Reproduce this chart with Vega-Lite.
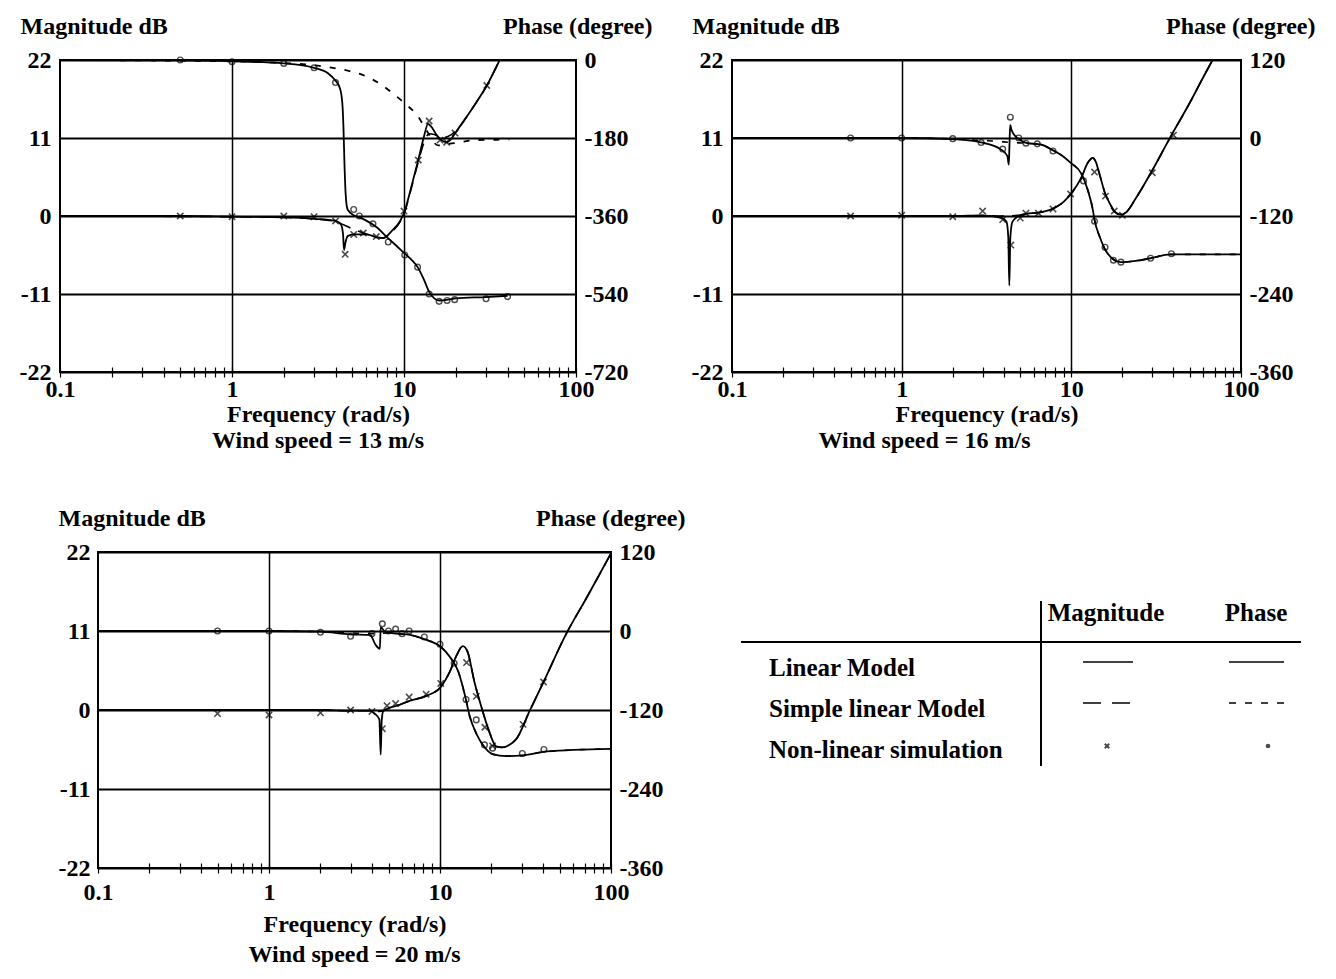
{
"$schema": "https://vega.github.io/schema/vega-lite/v6.json",
"padding": {"left": 18, "top": 13, "right": 5, "bottom": 5},
"config": {
  "font": "Liberation Serif",
  "view": {"stroke": "black", "strokeWidth": 2},
  "axis": {"labelFont": "Liberation Serif", "labelFontSize": 24, "labelFontWeight": "bold", "labelColor": "black", "titleFont": "Liberation Serif", "titleFontSize": 24, "titleFontWeight": "bold", "titleColor": "black", "tickColor": "black", "domainColor": "black", "gridColor": "black"},
  "title": {"font": "Liberation Serif", "fontSize": 24, "fontWeight": "bold", "color": "black"},
  "text": {"font": "Liberation Serif", "fontSize": 25, "fontWeight": "bold", "color": "black"}
},
"datasets": {
  "p13": [
    {"f":0.1,"v":0,"s":"ml"},{"f":0.5,"v":0,"s":"ml"},{"f":1,"v":-0.1,"s":"ml"},{"f":2,"v":-0.2,"s":"ml"},{"f":3,"v":-0.4,"s":"ml"},{"f":4,"v":-0.7,"s":"ml"},{"f":4.3,"v":-1.2,"s":"ml"},{"f":4.42,"v":-2.5,"s":"ml"},{"f":4.48,"v":-4.8,"s":"ml"},{"f":4.58,"v":-3.6,"s":"ml"},{"f":4.72,"v":-2.8,"s":"ml"},{"f":5.2,"v":-2.6,"s":"ml"},{"f":6.07,"v":-2.6,"s":"ml"},{"f":6.93,"v":-3.0,"s":"ml"},{"f":7.6,"v":-3.1,"s":"ml"},{"f":8.5,"v":-2.1,"s":"ml"},{"f":9.5,"v":-0.7,"s":"ml"},{"f":10.1,"v":0.7,"s":"ml"},{"f":11,"v":4,"s":"ml"},{"f":12.1,"v":7.9,"s":"ml"},{"f":13,"v":11,"s":"ml"},{"f":13.8,"v":13,"s":"ml"},{"f":14.4,"v":12.6,"s":"ml"},{"f":15.5,"v":11.4,"s":"ml"},{"f":16.5,"v":10.7,"s":"ml"},{"f":17.7,"v":10.4,"s":"ml"},{"f":19,"v":11,"s":"ml"},{"f":20,"v":11.8,"s":"ml"},{"f":25,"v":15.2,"s":"ml"},{"f":30.3,"v":18.4,"s":"ml"},{"f":36,"v":22,"s":"ml"},
    {"f":0.1,"v":0,"s":"ms"},{"f":1,"v":-0.1,"s":"ms"},{"f":2,"v":-0.2,"s":"ms"},{"f":3,"v":-0.4,"s":"ms"},{"f":4,"v":-0.8,"s":"ms"},{"f":5,"v":-1.8,"s":"ms"},{"f":6,"v":-2.5,"s":"ms"},{"f":7,"v":-3.0,"s":"ms"},{"f":7.6,"v":-3.1,"s":"ms"},{"f":8.5,"v":-2.2,"s":"ms"},{"f":9.5,"v":-0.8,"s":"ms"},{"f":10.1,"v":0.6,"s":"ms"},{"f":11,"v":3.8,"s":"ms"},{"f":12.1,"v":7.6,"s":"ms"},{"f":13,"v":10.2,"s":"ms"},{"f":14,"v":11.6,"s":"ms"},{"f":15,"v":11.5,"s":"ms"},{"f":16.5,"v":11,"s":"ms"},{"f":18,"v":11.2,"s":"ms"},{"f":20,"v":12,"s":"ms"},{"f":25,"v":15.2,"s":"ms"},{"f":30.3,"v":18.4,"s":"ms"},{"f":36,"v":22,"s":"ms"},
    {"f":0.5,"v":0,"s":"mn"},{"f":1,"v":-0.1,"s":"mn"},{"f":2,"v":0,"s":"mn"},{"f":3,"v":-0.1,"s":"mn"},{"f":4,"v":-0.7,"s":"mn"},{"f":4.55,"v":-5.4,"s":"mn"},{"f":5.1,"v":-2.6,"s":"mn"},{"f":5.8,"v":-2.4,"s":"mn"},{"f":6.9,"v":-2.9,"s":"mn"},{"f":10,"v":0.7,"s":"mn"},{"f":12.1,"v":7.9,"s":"mn"},{"f":14,"v":13.4,"s":"mn"},{"f":16.2,"v":10.7,"s":"mn"},{"f":17.7,"v":10.4,"s":"mn"},{"f":19.8,"v":11.7,"s":"mn"},{"f":30.3,"v":18.4,"s":"mn"},
    {"f":0.1,"v":0,"s":"pl"},{"f":0.5,"v":-1,"s":"pl"},{"f":1,"v":-3,"s":"pl"},{"f":2,"v":-8,"s":"pl"},{"f":3,"v":-18,"s":"pl"},{"f":3.6,"v":-30,"s":"pl"},{"f":4,"v":-48,"s":"pl"},{"f":4.24,"v":-65,"s":"pl"},{"f":4.38,"v":-100,"s":"pl"},{"f":4.45,"v":-160,"s":"pl"},{"f":4.5,"v":-230,"s":"pl"},{"f":4.58,"v":-310,"s":"pl"},{"f":4.7,"v":-345,"s":"pl"},{"f":5.1,"v":-358,"s":"pl"},{"f":5.5,"v":-363,"s":"pl"},{"f":6,"v":-370,"s":"pl"},{"f":7,"v":-387,"s":"pl"},{"f":8,"v":-410,"s":"pl"},{"f":9,"v":-428,"s":"pl"},{"f":10,"v":-445,"s":"pl"},{"f":11,"v":-460,"s":"pl"},{"f":12,"v":-478,"s":"pl"},{"f":13,"v":-505,"s":"pl"},{"f":14,"v":-535,"s":"pl"},{"f":15,"v":-550,"s":"pl"},{"f":16,"v":-555,"s":"pl"},{"f":18,"v":-553,"s":"pl"},{"f":20,"v":-550,"s":"pl"},{"f":30,"v":-547,"s":"pl"},{"f":40,"v":-544,"s":"pl"},
    {"f":0.1,"v":0,"s":"ps"},{"f":1,"v":-3,"s":"ps"},{"f":2,"v":-7,"s":"ps"},{"f":3,"v":-12,"s":"ps"},{"f":3.55,"v":-16,"s":"ps"},{"f":4.64,"v":-24,"s":"ps"},{"f":5.8,"v":-35,"s":"ps"},{"f":7.25,"v":-55,"s":"ps"},{"f":8.66,"v":-78,"s":"ps"},{"f":10.1,"v":-100,"s":"ps"},{"f":12.1,"v":-131,"s":"ps"},{"f":13.5,"v":-162,"s":"ps"},{"f":15.8,"v":-197,"s":"ps"},{"f":18.5,"v":-193,"s":"ps"},{"f":21.2,"v":-190,"s":"ps"},{"f":25.2,"v":-185,"s":"ps"},{"f":34.6,"v":-184,"s":"ps"},{"f":41,"v":-183,"s":"ps"},
    {"f":0.5,"v":0,"s":"pn"},{"f":1,"v":-4,"s":"pn"},{"f":2,"v":-8,"s":"pn"},{"f":3,"v":-18,"s":"pn"},{"f":4,"v":-52,"s":"pn"},{"f":5.1,"v":-345,"s":"pn"},{"f":5.5,"v":-360,"s":"pn"},{"f":6.6,"v":-378,"s":"pn"},{"f":8.1,"v":-420,"s":"pn"},{"f":10.1,"v":-450,"s":"pn"},{"f":12,"v":-478,"s":"pn"},{"f":14,"v":-540,"s":"pn"},{"f":16,"v":-557,"s":"pn"},{"f":17.8,"v":-555,"s":"pn"},{"f":19.7,"v":-553,"s":"pn"},{"f":30,"v":-551,"s":"pn"},{"f":40,"v":-546,"s":"pn"}
  ],
  "p16": [
    {"f":0.1,"v":0,"s":"ml"},{"f":1,"v":0,"s":"ml"},{"f":2,"v":0,"s":"ml"},{"f":3,"v":0.1,"s":"ml"},{"f":3.9,"v":-0.3,"s":"ml"},{"f":4.15,"v":-0.8,"s":"ml"},{"f":4.25,"v":-3,"s":"ml"},{"f":4.31,"v":-9.8,"s":"ml"},{"f":4.37,"v":-3,"s":"ml"},{"f":4.5,"v":-0.8,"s":"ml"},{"f":4.9,"v":0,"s":"ml"},{"f":5.4,"v":0.3,"s":"ml"},{"f":6.5,"v":0.5,"s":"ml"},{"f":7.9,"v":1.1,"s":"ml"},{"f":9,"v":2,"s":"ml"},{"f":10,"v":3.2,"s":"ml"},{"f":11.4,"v":5.3,"s":"ml"},{"f":12.5,"v":7.5,"s":"ml"},{"f":13.4,"v":8.2,"s":"ml"},{"f":13.9,"v":7.7,"s":"ml"},{"f":14.7,"v":5.8,"s":"ml"},{"f":15.8,"v":3.2,"s":"ml"},{"f":17,"v":1.6,"s":"ml"},{"f":18,"v":0.6,"s":"ml"},{"f":19.6,"v":0.2,"s":"ml"},{"f":21,"v":0.5,"s":"ml"},{"f":24,"v":2.5,"s":"ml"},{"f":29.3,"v":6,"s":"ml"},{"f":38.5,"v":11.2,"s":"ml"},{"f":50,"v":16,"s":"ml"},{"f":60,"v":19.6,"s":"ml"},{"f":68,"v":22,"s":"ml"},
    {"f":0.1,"v":0,"s":"ms"},{"f":1,"v":0,"s":"ms"},{"f":2,"v":0,"s":"ms"},{"f":3,"v":0.05,"s":"ms"},{"f":3.9,"v":0,"s":"ms"},{"f":4.9,"v":0.1,"s":"ms"},{"f":5.4,"v":0.3,"s":"ms"},{"f":6.5,"v":0.5,"s":"ms"},{"f":7.9,"v":1.1,"s":"ms"},{"f":9,"v":2,"s":"ms"},{"f":10,"v":3.2,"s":"ms"},{"f":11.4,"v":5.3,"s":"ms"},{"f":12.5,"v":7.5,"s":"ms"},{"f":13.4,"v":8.2,"s":"ms"},{"f":13.9,"v":7.7,"s":"ms"},{"f":14.7,"v":5.8,"s":"ms"},{"f":15.8,"v":3.2,"s":"ms"},{"f":17,"v":1.6,"s":"ms"},{"f":18,"v":0.6,"s":"ms"},{"f":19.6,"v":0.2,"s":"ms"},{"f":21,"v":0.5,"s":"ms"},{"f":24,"v":2.5,"s":"ms"},{"f":29.3,"v":6,"s":"ms"},{"f":38.5,"v":11.2,"s":"ms"},{"f":50,"v":16,"s":"ms"},{"f":60,"v":19.6,"s":"ms"},{"f":68,"v":22,"s":"ms"},
    {"f":0.5,"v":0,"s":"mn"},{"f":1,"v":0.1,"s":"mn"},{"f":2,"v":-0.1,"s":"mn"},{"f":3,"v":0.7,"s":"mn"},{"f":3.94,"v":-0.5,"s":"mn"},{"f":4.4,"v":-4.1,"s":"mn"},{"f":5.0,"v":-0.3,"s":"mn"},{"f":5.4,"v":0.4,"s":"mn"},{"f":6.4,"v":0.4,"s":"mn"},{"f":7.8,"v":1.0,"s":"mn"},{"f":9.9,"v":3.1,"s":"mn"},{"f":13.7,"v":6.2,"s":"mn"},{"f":15.9,"v":2.8,"s":"mn"},{"f":17.9,"v":0.7,"s":"mn"},{"f":20,"v":0.1,"s":"mn"},{"f":30,"v":6.1,"s":"mn"},{"f":40,"v":11.4,"s":"mn"},
    {"f":0.1,"v":0,"s":"pl"},{"f":1,"v":0,"s":"pl"},{"f":2,"v":-1.6,"s":"pl"},{"f":2.94,"v":-6.7,"s":"pl"},{"f":3.86,"v":-18,"s":"pl"},{"f":4.2,"v":-28,"s":"pl"},{"f":4.28,"v":-41,"s":"pl"},{"f":4.32,"v":-10,"s":"pl"},{"f":4.36,"v":20,"s":"pl"},{"f":4.45,"v":12,"s":"pl"},{"f":4.6,"v":5,"s":"pl"},{"f":4.9,"v":-1.6,"s":"pl"},{"f":5.5,"v":-8,"s":"pl"},{"f":6.6,"v":-10,"s":"pl"},{"f":7.8,"v":-19,"s":"pl"},{"f":8.7,"v":-26,"s":"pl"},{"f":10,"v":-39,"s":"pl"},{"f":11.4,"v":-54,"s":"pl"},{"f":12.5,"v":-80,"s":"pl"},{"f":13.4,"v":-111,"s":"pl"},{"f":13.7,"v":-126,"s":"pl"},{"f":14.7,"v":-152,"s":"pl"},{"f":15.7,"v":-170,"s":"pl"},{"f":18,"v":-188,"s":"pl"},{"f":19.6,"v":-191,"s":"pl"},{"f":24,"v":-189,"s":"pl"},{"f":29.3,"v":-185,"s":"pl"},{"f":38.5,"v":-179,"s":"pl"},{"f":100,"v":-179,"s":"pl"},
    {"f":0.1,"v":0,"s":"ps"},{"f":1,"v":0,"s":"ps"},{"f":2,"v":-1.5,"s":"ps"},{"f":3,"v":-4,"s":"ps"},{"f":3.6,"v":-5,"s":"ps"},{"f":4.4,"v":-7,"s":"ps"},{"f":5.5,"v":-8,"s":"ps"},{"f":6.6,"v":-10,"s":"ps"},{"f":7.8,"v":-19,"s":"ps"},{"f":8.7,"v":-26,"s":"ps"},{"f":10,"v":-39,"s":"ps"},{"f":11.4,"v":-54,"s":"ps"},{"f":12.5,"v":-80,"s":"ps"},{"f":13.4,"v":-111,"s":"ps"},{"f":13.7,"v":-126,"s":"ps"},{"f":14.7,"v":-152,"s":"ps"},{"f":15.7,"v":-170,"s":"ps"},{"f":18,"v":-188,"s":"ps"},{"f":19.6,"v":-191,"s":"ps"},{"f":24,"v":-189,"s":"ps"},{"f":29.3,"v":-185,"s":"ps"},{"f":38.5,"v":-179,"s":"ps"},{"f":100,"v":-179,"s":"ps"},
    {"f":0.5,"v":0,"s":"pn"},{"f":1,"v":0,"s":"pn"},{"f":2,"v":-1,"s":"pn"},{"f":2.94,"v":-7,"s":"pn"},{"f":3.94,"v":-17,"s":"pn"},{"f":4.37,"v":32,"s":"pn"},{"f":4.9,"v":0,"s":"pn"},{"f":5.4,"v":-8,"s":"pn"},{"f":6.3,"v":-9,"s":"pn"},{"f":7.8,"v":-20,"s":"pn"},{"f":11.8,"v":-66,"s":"pn"},{"f":13.7,"v":-128,"s":"pn"},{"f":15.8,"v":-168,"s":"pn"},{"f":17.7,"v":-188,"s":"pn"},{"f":19.6,"v":-191,"s":"pn"},{"f":29.3,"v":-185,"s":"pn"},{"f":38.9,"v":-178,"s":"pn"}
  ],
  "p20": [
    {"f":0.1,"v":0,"s":"ml"},{"f":1,"v":0,"s":"ml"},{"f":2,"v":0,"s":"ml"},{"f":3,"v":-0.1,"s":"ml"},{"f":3.9,"v":-0.1,"s":"ml"},{"f":4.17,"v":-0.55,"s":"ml"},{"f":4.42,"v":-1.3,"s":"ml"},{"f":4.5,"v":-6.2,"s":"ml"},{"f":4.56,"v":-1.5,"s":"ml"},{"f":4.65,"v":-0.2,"s":"ml"},{"f":4.9,"v":0.15,"s":"ml"},{"f":5.6,"v":0.6,"s":"ml"},{"f":6.7,"v":1.3,"s":"ml"},{"f":8.4,"v":2.0,"s":"ml"},{"f":10.1,"v":3.2,"s":"ml"},{"f":11.4,"v":5.3,"s":"ml"},{"f":12.5,"v":7.6,"s":"ml"},{"f":13.6,"v":8.9,"s":"ml"},{"f":14.5,"v":8.1,"s":"ml"},{"f":15.9,"v":3.9,"s":"ml"},{"f":17.6,"v":0.15,"s":"ml"},{"f":19.2,"v":-2.7,"s":"ml"},{"f":21.4,"v":-5.1,"s":"ml"},{"f":23,"v":-5.2,"s":"ml"},{"f":27.8,"v":-4.1,"s":"ml"},{"f":33.5,"v":-0.1,"s":"ml"},{"f":40.3,"v":3.9,"s":"ml"},{"f":54.7,"v":10.6,"s":"ml"},{"f":71.9,"v":15.6,"s":"ml"},{"f":100,"v":21.8,"s":"ml"},
    {"f":0.1,"v":0,"s":"ms"},{"f":1,"v":0,"s":"ms"},{"f":2,"v":0,"s":"ms"},{"f":3,"v":-0.1,"s":"ms"},{"f":3.9,"v":-0.1,"s":"ms"},{"f":4.4,"v":-0.2,"s":"ms"},{"f":4.9,"v":0.15,"s":"ms"},{"f":5.6,"v":0.6,"s":"ms"},{"f":6.7,"v":1.3,"s":"ms"},{"f":8.4,"v":2.0,"s":"ms"},{"f":10.1,"v":3.2,"s":"ms"},{"f":11.4,"v":5.3,"s":"ms"},{"f":12.5,"v":7.6,"s":"ms"},{"f":13.6,"v":8.9,"s":"ms"},{"f":14.5,"v":8.1,"s":"ms"},{"f":15.9,"v":3.9,"s":"ms"},{"f":17.6,"v":0.15,"s":"ms"},{"f":19.2,"v":-2.7,"s":"ms"},{"f":21.4,"v":-5.1,"s":"ms"},{"f":23,"v":-5.2,"s":"ms"},{"f":27.8,"v":-4.1,"s":"ms"},{"f":33.5,"v":-0.1,"s":"ms"},{"f":40.3,"v":3.9,"s":"ms"},{"f":54.7,"v":10.6,"s":"ms"},{"f":71.9,"v":15.6,"s":"ms"},{"f":100,"v":21.8,"s":"ms"},
    {"f":0.5,"v":-0.5,"s":"mn"},{"f":1,"v":-0.7,"s":"mn"},{"f":2,"v":-0.4,"s":"mn"},{"f":3,"v":0,"s":"mn"},{"f":4,"v":-0.2,"s":"mn"},{"f":4.6,"v":-2.6,"s":"mn"},{"f":4.9,"v":0.6,"s":"mn"},{"f":5.5,"v":0.9,"s":"mn"},{"f":6.6,"v":1.8,"s":"mn"},{"f":8.3,"v":2.2,"s":"mn"},{"f":10.1,"v":3.7,"s":"mn"},{"f":14.3,"v":6.6,"s":"mn"},{"f":16.3,"v":1.9,"s":"mn"},{"f":18.3,"v":-2.4,"s":"mn"},{"f":20.3,"v":-5.0,"s":"mn"},{"f":30.6,"v":-2.0,"s":"mn"},{"f":40.3,"v":3.9,"s":"mn"},
    {"f":0.1,"v":0,"s":"pl"},{"f":1,"v":0,"s":"pl"},{"f":2,"v":-1,"s":"pl"},{"f":2.98,"v":-5,"s":"pl"},{"f":3.9,"v":-6,"s":"pl"},{"f":4.2,"v":-21,"s":"pl"},{"f":4.45,"v":-27,"s":"pl"},{"f":4.5,"v":6,"s":"pl"},{"f":4.77,"v":-1,"s":"pl"},{"f":5.6,"v":-4,"s":"pl"},{"f":6.7,"v":-6,"s":"pl"},{"f":8,"v":-12,"s":"pl"},{"f":10.1,"v":-24,"s":"pl"},{"f":11.4,"v":-39,"s":"pl"},{"f":12.8,"v":-62,"s":"pl"},{"f":14,"v":-98,"s":"pl"},{"f":14.9,"v":-129,"s":"pl"},{"f":16.4,"v":-157,"s":"pl"},{"f":17.9,"v":-174,"s":"pl"},{"f":20.3,"v":-187,"s":"pl"},{"f":24.4,"v":-190,"s":"pl"},{"f":30.6,"v":-189,"s":"pl"},{"f":42,"v":-183,"s":"pl"},{"f":100,"v":-179,"s":"pl"},
    {"f":0.1,"v":0,"s":"ps"},{"f":1,"v":0,"s":"ps"},{"f":2,"v":-1,"s":"ps"},{"f":3,"v":-3,"s":"ps"},{"f":4,"v":-4,"s":"ps"},{"f":5,"v":-3,"s":"ps"},{"f":5.6,"v":-4,"s":"ps"},{"f":6.7,"v":-6,"s":"ps"},{"f":8,"v":-12,"s":"ps"},{"f":10.1,"v":-24,"s":"ps"},{"f":11.4,"v":-39,"s":"ps"},{"f":12.8,"v":-62,"s":"ps"},{"f":14,"v":-98,"s":"ps"},{"f":14.9,"v":-129,"s":"ps"},{"f":16.4,"v":-157,"s":"ps"},{"f":17.9,"v":-174,"s":"ps"},{"f":20.3,"v":-187,"s":"ps"},{"f":24.4,"v":-190,"s":"ps"},{"f":30.6,"v":-189,"s":"ps"},{"f":42,"v":-183,"s":"ps"},{"f":100,"v":-179,"s":"ps"},
    {"f":0.5,"v":0,"s":"pn"},{"f":1,"v":0,"s":"pn"},{"f":2,"v":-2,"s":"pn"},{"f":3,"v":-8,"s":"pn"},{"f":4,"v":-4,"s":"pn"},{"f":4.6,"v":11,"s":"pn"},{"f":5,"v":0,"s":"pn"},{"f":5.5,"v":3,"s":"pn"},{"f":6,"v":-4,"s":"pn"},{"f":6.6,"v":0,"s":"pn"},{"f":8.1,"v":-9,"s":"pn"},{"f":10,"v":-20,"s":"pn"},{"f":12.1,"v":-49,"s":"pn"},{"f":14.2,"v":-104,"s":"pn"},{"f":16.3,"v":-135,"s":"pn"},{"f":18.2,"v":-173,"s":"pn"},{"f":20.3,"v":-178,"s":"pn"},{"f":30.3,"v":-186,"s":"pn"},{"f":40.5,"v":-180,"s":"pn"}
  ],
  "legend": [
    {"row":"Linear Model","q":"mag","style":"solid"},
    {"row":"Linear Model","q":"phase","style":"solid"},
    {"row":"Simple linear Model","q":"mag","style":"dash"},
    {"row":"Simple linear Model","q":"phase","style":"dot"},
    {"row":"Non-linear simulation","q":"mag","style":"x"},
    {"row":"Non-linear simulation","q":"phase","style":"o"}
  ],
  "legendHead": [
    {"q":"mag","h":"Magnitude"},
    {"q":"phase","h":"Phase"}
  ],
  "spacer": [{"k": 0}]
},
"spacing": 51,
"vconcat": [
 {"spacing": 37, "hconcat": [
  {
   "width": 516, "height": 312,
   "data": {"name": "p13"},
   "title": {"text": "Wind speed = 13  m/s", "orient": "bottom", "anchor": "middle", "offset": 3},
   "encoding": {"x": {"field": "f", "type": "quantitative", "scale": {"type": "log", "domain": [0.1, 100]},
     "axis": {"values": [0.1,0.2,0.3,0.4,0.5,0.6,0.7,0.8,0.9,1,2,3,4,5,6,7,8,9,10,20,30,40,50,60,70,80,90,100], "labelExpr": "datum.value == 0.1 || datum.value == 1 || datum.value == 10 || datum.value == 100 ? toString(datum.value) : ''", "labelOverlap": false, "labelFlush": false, "offset": -5, "tickSize": 10, "tickWidth": 1.2, "domain": false, "grid": true, "gridWidth": 1.5, "gridOpacity": {"condition": {"test": "datum.value == 1 || datum.value == 10", "value": 1}, "value": 0}, "labelPadding": 0, "title": "Frequency (rad/s)", "titlePadding": 1}}},
   "layer": [
    {"encoding": {"y": {"field": "v", "type": "quantitative", "scale": {"domain": [-22, 22]}, "axis": {"orient": "left", "values": [-22,-11,0,11,22], "labelExpr": "toString(datum.value)", "grid": true, "gridWidth": 2, "domain": false, "ticks": false, "labelPadding": 9, "title": "Magnitude dB", "titleAngle": 0, "titleAlign": "left", "titleBaseline": "alphabetic", "titleX": -40, "titleY": -27}}},
     "layer": [
      {"transform": [{"filter": "datum.s == 'ml'"}], "mark": {"type": "line", "interpolate": "monotone", "color": "black", "strokeWidth": 1.8, "clip": true}},
      {"transform": [{"filter": "datum.s == 'ms'"}], "mark": {"type": "line", "interpolate": "monotone", "color": "black", "strokeWidth": 1.6, "strokeDash": [12, 8], "clip": true}},
      {"transform": [{"filter": "datum.s == 'mn'"}], "mark": {"type": "point", "shape": "M-1,-1L1,1M-1,1L1,-1", "size": 40, "filled": false, "color": "black", "strokeWidth": 1.6}}
     ]},
    {"encoding": {"y": {"field": "v", "type": "quantitative", "scale": {"domain": [-720, 0]}, "axis": {"orient": "right", "values": [-720,-540,-360,-180,0], "labelExpr": "toString(datum.value)", "grid": false, "domain": false, "ticks": false, "labelPadding": 8, "title": "Phase (degree)", "titleAngle": 0, "titleAlign": "right", "titleBaseline": "alphabetic", "titleX": 76, "titleY": -27}}},
     "layer": [
      {"transform": [{"filter": "datum.s == 'pl'"}], "mark": {"type": "line", "interpolate": "monotone", "color": "black", "strokeWidth": 1.8, "clip": true}},
      {"transform": [{"filter": "datum.s == 'ps'"}], "mark": {"type": "line", "interpolate": "monotone", "color": "black", "strokeWidth": 1.8, "strokeDash": [6, 9], "clip": true}},
      {"transform": [{"filter": "datum.s == 'pn'"}], "mark": {"type": "point", "shape": "circle", "size": 32, "filled": false, "color": "black", "strokeWidth": 1.4}}
     ]}
   ],
   "resolve": {"scale": {"y": "independent"}}
  },
  {
   "width": 509, "height": 312,
   "data": {"name": "p16"},
   "title": {"text": "Wind speed = 16 m/s", "orient": "bottom", "anchor": "middle", "offset": 3, "dx": -62},
   "encoding": {"x": {"field": "f", "type": "quantitative", "scale": {"type": "log", "domain": [0.1, 100]},
     "axis": {"values": [0.1,0.2,0.3,0.4,0.5,0.6,0.7,0.8,0.9,1,2,3,4,5,6,7,8,9,10,20,30,40,50,60,70,80,90,100], "labelExpr": "datum.value == 0.1 || datum.value == 1 || datum.value == 10 || datum.value == 100 ? toString(datum.value) : ''", "labelOverlap": false, "labelFlush": false, "offset": -5, "tickSize": 10, "tickWidth": 1.2, "domain": false, "grid": true, "gridWidth": 1.5, "gridOpacity": {"condition": {"test": "datum.value == 1 || datum.value == 10", "value": 1}, "value": 0}, "labelPadding": 0, "title": "Frequency (rad/s)", "titlePadding": 1}}},
   "layer": [
    {"encoding": {"y": {"field": "v", "type": "quantitative", "scale": {"domain": [-22, 22]}, "axis": {"orient": "left", "values": [-22,-11,0,11,22], "labelExpr": "toString(datum.value)", "grid": true, "gridWidth": 2, "domain": false, "ticks": false, "labelPadding": 9, "title": "Magnitude dB", "titleAngle": 0, "titleAlign": "left", "titleBaseline": "alphabetic", "titleX": -40, "titleY": -27}}},
     "layer": [
      {"transform": [{"filter": "datum.s == 'ml'"}], "mark": {"type": "line", "interpolate": "monotone", "color": "black", "strokeWidth": 1.8, "clip": true}},
      {"transform": [{"filter": "datum.s == 'ms'"}], "mark": {"type": "line", "interpolate": "monotone", "color": "black", "strokeWidth": 1.6, "strokeDash": [12, 8], "clip": true}},
      {"transform": [{"filter": "datum.s == 'mn'"}], "mark": {"type": "point", "shape": "M-1,-1L1,1M-1,1L1,-1", "size": 40, "filled": false, "color": "black", "strokeWidth": 1.6}}
     ]},
    {"encoding": {"y": {"field": "v", "type": "quantitative", "scale": {"domain": [-360, 120]}, "axis": {"orient": "right", "values": [-360,-240,-120,0,120], "labelExpr": "toString(datum.value)", "grid": false, "domain": false, "ticks": false, "labelPadding": 8, "title": "Phase (degree)", "titleAngle": 0, "titleAlign": "right", "titleBaseline": "alphabetic", "titleX": 74, "titleY": -27}}},
     "layer": [
      {"transform": [{"filter": "datum.s == 'pl'"}], "mark": {"type": "line", "interpolate": "monotone", "color": "black", "strokeWidth": 1.8, "clip": true}},
      {"transform": [{"filter": "datum.s == 'ps'"}], "mark": {"type": "line", "interpolate": "monotone", "color": "black", "strokeWidth": 1.6, "strokeDash": [6, 9], "clip": true}},
      {"transform": [{"filter": "datum.s == 'pn'"}], "mark": {"type": "point", "shape": "circle", "size": 32, "filled": false, "color": "black", "strokeWidth": 1.4}}
     ]}
   ],
   "resolve": {"scale": {"y": "independent"}}
  }
 ]},
 {"spacing": -4, "hconcat": [
  {
   "width": 1, "height": 1,
   "view": {"stroke": null},
   "data": {"name": "spacer"},
   "mark": {"type": "point", "opacity": 0, "size": 0, "strokeWidth": 0},
   "encoding": {}
  },
  {
   "width": 513, "height": 316,
   "data": {"name": "p20"},
   "title": {"text": "Wind speed = 20 m/s", "orient": "bottom", "anchor": "middle", "offset": 7},
   "encoding": {"x": {"field": "f", "type": "quantitative", "scale": {"type": "log", "domain": [0.1, 100]},
     "axis": {"values": [0.1,0.2,0.3,0.4,0.5,0.6,0.7,0.8,0.9,1,2,3,4,5,6,7,8,9,10,20,30,40,50,60,70,80,90,100], "labelExpr": "datum.value == 0.1 || datum.value == 1 || datum.value == 10 || datum.value == 100 ? toString(datum.value) : ''", "labelOverlap": false, "labelFlush": false, "offset": -5, "tickSize": 10, "tickWidth": 1.2, "domain": false, "grid": true, "gridWidth": 1.5, "gridOpacity": {"condition": {"test": "datum.value == 1 || datum.value == 10", "value": 1}, "value": 0}, "labelPadding": 7, "title": "Frequency (rad/s)", "titlePadding": 8}}},
   "layer": [
    {"encoding": {"y": {"field": "v", "type": "quantitative", "scale": {"domain": [-22, 22]}, "axis": {"orient": "left", "values": [-22,-11,0,11,22], "labelExpr": "toString(datum.value)", "grid": true, "gridWidth": 2, "domain": false, "ticks": false, "labelPadding": 8, "titlePadding": 0, "title": "Magnitude dB", "titleAngle": 0, "titleAlign": "left", "titleBaseline": "alphabetic", "titleX": -40, "titleY": -27}}},
     "layer": [
      {"transform": [{"filter": "datum.s == 'ml'"}], "mark": {"type": "line", "interpolate": "monotone", "color": "black", "strokeWidth": 1.8, "clip": true}},
      {"transform": [{"filter": "datum.s == 'ms'"}], "mark": {"type": "line", "interpolate": "monotone", "color": "black", "strokeWidth": 1.6, "strokeDash": [12, 8], "clip": true}},
      {"transform": [{"filter": "datum.s == 'mn'"}], "mark": {"type": "point", "shape": "M-1,-1L1,1M-1,1L1,-1", "size": 40, "filled": false, "color": "black", "strokeWidth": 1.6}}
     ]},
    {"encoding": {"y": {"field": "v", "type": "quantitative", "scale": {"domain": [-360, 120]}, "axis": {"orient": "right", "values": [-360,-240,-120,0,120], "labelExpr": "toString(datum.value)", "grid": false, "domain": false, "ticks": false, "labelPadding": 8, "title": "Phase (degree)", "titleAngle": 0, "titleAlign": "right", "titleBaseline": "alphabetic", "titleX": 74, "titleY": -27}}},
     "layer": [
      {"transform": [{"filter": "datum.s == 'pl'"}], "mark": {"type": "line", "interpolate": "monotone", "color": "black", "strokeWidth": 1.8, "clip": true}},
      {"transform": [{"filter": "datum.s == 'ps'"}], "mark": {"type": "line", "interpolate": "monotone", "color": "black", "strokeWidth": 1.6, "strokeDash": [6, 9], "clip": true}},
      {"transform": [{"filter": "datum.s == 'pn'"}], "mark": {"type": "point", "shape": "circle", "size": 32, "filled": false, "color": "black", "strokeWidth": 1.4}}
     ]}
   ],
   "resolve": {"scale": {"y": "independent"}}
  },
  {
   "width": 620, "height": 280,
   "view": {"stroke": null},
   "data": {"name": "legend"},
   "layer": [
    {"transform": [{"filter": "datum.q == 'mag'"}], "mark": {"type": "text", "align": "left", "baseline": "middle"},
     "encoding": {"x": {"datum": "label", "type": "nominal", "scale": {"type": "point", "domain": ["label", "mag", "phase"], "range": [83, 570], "padding": 0}, "axis": null},
                  "y": {"field": "row", "type": "nominal", "scale": {"type": "point", "domain": ["header", "Linear Model", "Simple linear Model", "Non-linear simulation"], "range": [75, 198], "padding": 0}, "axis": null},
                  "text": {"field": "row"}}},
    {"data": {"name": "legendHead"}, "transform": [{"filter": "datum.q == 'mag'"}], "mark": {"type": "text", "align": "center", "baseline": "middle", "dx": 93.5, "dy": -14},
     "encoding": {"x": {"field": "q", "type": "nominal", "scale": {"type": "point", "domain": ["label", "mag", "phase"], "range": [83, 570], "padding": 0}, "axis": null},
                  "y": {"datum": "header", "type": "nominal", "scale": {"type": "point", "domain": ["header", "Linear Model", "Simple linear Model", "Non-linear simulation"], "range": [75, 198], "padding": 0}, "axis": null},
                  "text": {"field": "h"}}},
    {"data": {"name": "legendHead"}, "transform": [{"filter": "datum.q == 'phase'"}], "mark": {"type": "text", "align": "center", "baseline": "middle", "dx": 0, "dy": -14},
     "encoding": {"x": {"field": "q", "type": "nominal", "scale": {"type": "point", "domain": ["label", "mag", "phase"], "range": [83, 570], "padding": 0}, "axis": null},
                  "y": {"datum": "header", "type": "nominal", "scale": {"type": "point", "domain": ["header", "Linear Model", "Simple linear Model", "Non-linear simulation"], "range": [75, 198], "padding": 0}, "axis": null},
                  "text": {"field": "h"}}},
    {"mark": {"type": "rule", "xOffset": -28, "x2Offset": 45, "yOffset": 15, "y2Offset": 15, "strokeWidth": 1.5, "color": "black"},
     "encoding": {"x": {"datum": "label", "type": "nominal", "scale": {"type": "point", "domain": ["label", "mag", "phase"], "range": [83, 570], "padding": 0}, "axis": null},
                  "x2": {"datum": "phase"},
                  "y": {"datum": "header", "type": "nominal", "scale": {"type": "point", "domain": ["header", "Linear Model", "Simple linear Model", "Non-linear simulation"], "range": [75, 198], "padding": 0}, "axis": null}}},
    {"mark": {"type": "rule", "xOffset": 28.5, "x2Offset": 28.5, "yOffset": -26, "y2Offset": 16, "strokeWidth": 1.5, "color": "black"},
     "encoding": {"x": {"datum": "mag", "type": "nominal", "scale": {"type": "point", "domain": ["label", "mag", "phase"], "range": [83, 570], "padding": 0}, "axis": null},
                  "y": {"datum": "header", "type": "nominal", "scale": {"type": "point", "domain": ["header", "Linear Model", "Simple linear Model", "Non-linear simulation"], "range": [75, 198], "padding": 0}, "axis": null},
                  "y2": {"datum": "Non-linear simulation"}}},
    {"transform": [{"filter": "datum.q == 'mag' && datum.style == 'solid'"}], "mark": {"type": "rule", "xOffset": 70.5, "x2Offset": 120.5, "yOffset": -6, "strokeWidth": 1.6, "color": "black"},
     "encoding": {"x": {"field": "q", "type": "nominal", "scale": {"type": "point", "domain": ["label", "mag", "phase"], "range": [83, 570], "padding": 0}, "axis": null}, "x2": {"field": "q"},
                  "y": {"field": "row", "type": "nominal", "scale": {"type": "point", "domain": ["header", "Linear Model", "Simple linear Model", "Non-linear simulation"], "range": [75, 198], "padding": 0}, "axis": null}}},
    {"transform": [{"filter": "datum.q == 'phase' && datum.style == 'solid'"}], "mark": {"type": "rule", "xOffset": -27, "x2Offset": 28, "yOffset": -6, "strokeWidth": 1.6, "color": "black"},
     "encoding": {"x": {"field": "q", "type": "nominal", "scale": {"type": "point", "domain": ["label", "mag", "phase"], "range": [83, 570], "padding": 0}, "axis": null}, "x2": {"field": "q"},
                  "y": {"field": "row", "type": "nominal", "scale": {"type": "point", "domain": ["header", "Linear Model", "Simple linear Model", "Non-linear simulation"], "range": [75, 198], "padding": 0}, "axis": null}}},
    {"transform": [{"filter": "datum.style == 'dash'"}], "mark": {"type": "rule", "xOffset": 70.5, "x2Offset": 117.5, "yOffset": -6, "strokeWidth": 1.6, "strokeDash": [18, 11], "color": "black"},
     "encoding": {"x": {"field": "q", "type": "nominal", "scale": {"type": "point", "domain": ["label", "mag", "phase"], "range": [83, 570], "padding": 0}, "axis": null}, "x2": {"field": "q"},
                  "y": {"field": "row", "type": "nominal", "scale": {"type": "point", "domain": ["header", "Linear Model", "Simple linear Model", "Non-linear simulation"], "range": [75, 198], "padding": 0}, "axis": null}}},
    {"transform": [{"filter": "datum.style == 'dot'"}], "mark": {"type": "rule", "xOffset": -27, "x2Offset": 30, "yOffset": -6, "strokeWidth": 1.6, "strokeDash": [7, 9], "color": "black"},
     "encoding": {"x": {"field": "q", "type": "nominal", "scale": {"type": "point", "domain": ["label", "mag", "phase"], "range": [83, 570], "padding": 0}, "axis": null}, "x2": {"field": "q"},
                  "y": {"field": "row", "type": "nominal", "scale": {"type": "point", "domain": ["header", "Linear Model", "Simple linear Model", "Non-linear simulation"], "range": [75, 198], "padding": 0}, "axis": null}}},
    {"transform": [{"filter": "datum.style == 'x'"}], "mark": {"type": "point", "shape": "M-1,-1L1,1M-1,1L1,-1", "size": 20, "filled": false, "strokeWidth": 2, "color": "black", "xOffset": 94.5, "yOffset": -4},
     "encoding": {"x": {"field": "q", "type": "nominal", "scale": {"type": "point", "domain": ["label", "mag", "phase"], "range": [83, 570], "padding": 0}, "axis": null},
                  "y": {"field": "row", "type": "nominal", "scale": {"type": "point", "domain": ["header", "Linear Model", "Simple linear Model", "Non-linear simulation"], "range": [75, 198], "padding": 0}, "axis": null}}},
    {"transform": [{"filter": "datum.style == 'o'"}], "mark": {"type": "point", "shape": "circle", "size": 22, "filled": true, "color": "black", "xOffset": 12, "yOffset": -4},
     "encoding": {"x": {"field": "q", "type": "nominal", "scale": {"type": "point", "domain": ["label", "mag", "phase"], "range": [83, 570], "padding": 0}, "axis": null},
                  "y": {"field": "row", "type": "nominal", "scale": {"type": "point", "domain": ["header", "Linear Model", "Simple linear Model", "Non-linear simulation"], "range": [75, 198], "padding": 0}, "axis": null}}}
   ]
  }
 ]}
]
}
